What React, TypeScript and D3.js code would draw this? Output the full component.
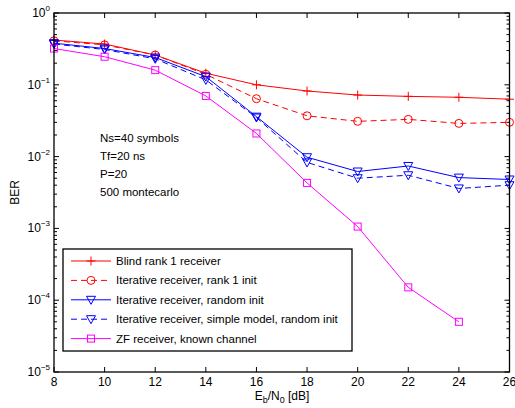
import React from 'react';
import * as d3 from 'd3';

const snr = [8, 10, 12, 14, 16, 18, 20, 22, 24, 26];
const blindRank1 = [0.42, 0.37, 0.26, 0.145, 0.1, 0.082, 0.072, 0.069, 0.067, 0.063];
const iterRank1 = [0.41, 0.36, 0.26, 0.14, 0.064, 0.037, 0.031, 0.033, 0.029, 0.03];
const iterRandom = [0.38, 0.32, 0.24, 0.13, 0.036, 0.0098, 0.0062, 0.0074, 0.0051, 0.0048];
const iterSimple = [0.37, 0.31, 0.23, 0.117, 0.035, 0.0083, 0.005, 0.0055, 0.0036, 0.004];
const zfKnown = [0.32, 0.246, 0.16, 0.07, 0.021, 0.0043, 0.00106, 0.000151, 0.00005];

const xTicks = [8, 10, 12, 14, 16, 18, 20, 22, 24, 26];
const yExponents = [0, -1, -2, -3, -4, -5];
const notes = ['Ns=40 symbols', 'Tf=20 ns', 'P=20', '500 montecarlo'];

type Marker = 'plus' | 'circle' | 'tri' | 'square';
const series: { name: string; values: number[]; color: string; dash?: string; marker: Marker }[] = [
  { name: 'Blind rank 1 receiver', values: blindRank1, color: '#ff0000', marker: 'plus' },
  { name: 'Iterative receiver, rank 1 init', values: iterRank1, color: '#ff0000', dash: '6,4', marker: 'circle' },
  { name: 'Iterative receiver, random init', values: iterRandom, color: '#0000ff', marker: 'tri' },
  { name: 'Iterative receiver, simple model, random init', values: iterSimple, color: '#0000ff', dash: '6,4', marker: 'tri' },
  { name: 'ZF receiver, known channel', values: zfKnown, color: '#ff00ff', marker: 'square' },
];

const W = 515;
const H = 408;
const m = { left: 54, right: 509.5, top: 13, bottom: 372 };
const font = '"Liberation Sans", Arial, sans-serif';

function MarkerShape({ type, x, y, color }: { type: Marker; x: number; y: number; color: string }) {
  if (type === 'plus') {
    return (
      <path d={`M${x - 4.5},${y}H${x + 4.5}M${x},${y - 4.5}V${y + 4.5}`} stroke={color} strokeWidth={1} fill="none" />
    );
  }
  if (type === 'circle') return <circle cx={x} cy={y} r={4} stroke={color} fill="none" strokeWidth={1} />;
  if (type === 'tri')
    return (
      <path d={`M${x - 4.5},${y - 3.5}L${x + 4.5},${y - 3.5}L${x},${y + 4.5}Z`} stroke={color} fill="none" strokeWidth={1} />
    );
  return <rect x={x - 3.5} y={y - 3.5} width={7} height={7} stroke={color} fill="none" strokeWidth={1} />;
}

export default function App() {
  const x = d3.scaleLinear().domain([8, 26]).range([m.left, m.right]);
  const y = d3.scaleLog().domain([1e-5, 1]).range([m.bottom, m.top]);
  const line = d3
    .line<number>()
    .x((_, i) => x(snr[i]))
    .y((d) => y(d));

  // minor log ticks
  const minor: number[] = [];
  for (let e = -5; e < 0; e++) for (let k = 2; k <= 9; k++) minor.push(k * Math.pow(10, e));

  const lg = { x0: 63, y0: 249, x1: 352, y1: 351 };
  const rowH = 19.4;

  return (
    <svg width={W} height={H} style={{ position: 'absolute', left: 0, top: 0, background: '#fff' }} fontFamily={font}>
      <rect x={0} y={0} width={W} height={H} fill="#fff" />
      <rect x={m.left} y={m.top} width={m.right - m.left} height={m.bottom - m.top} fill="#fff" stroke="none" />

      {/* ticks */}
      <g stroke="#000" strokeWidth={1}>
        {xTicks.map((t) => (
          <g key={'xt' + t}>
            <line x1={x(t)} x2={x(t)} y1={m.bottom} y2={m.bottom - 5} />
            <line x1={x(t)} x2={x(t)} y1={m.top} y2={m.top + 5} />
          </g>
        ))}
        {yExponents.map((e) => (
          <g key={'yt' + e}>
            <line x1={m.left} x2={m.left + 5} y1={y(Math.pow(10, e))} y2={y(Math.pow(10, e))} />
            <line x1={m.right} x2={m.right - 5} y1={y(Math.pow(10, e))} y2={y(Math.pow(10, e))} />
          </g>
        ))}
        {minor.map((v, i) => (
          <g key={'mn' + i}>
            <line x1={m.left} x2={m.left + 3} y1={y(v)} y2={y(v)} />
            <line x1={m.right} x2={m.right - 3} y1={y(v)} y2={y(v)} />
          </g>
        ))}
      </g>

      {/* series */}
      {series.map((s) => (
        <g key={s.name}>
          <path d={line(s.values) || ''} fill="none" stroke={s.color} strokeWidth={1} strokeDasharray={s.dash} />
          {s.values.map((v, i) => (
            <MarkerShape key={i} type={s.marker} x={x(snr[i])} y={y(v)} color={s.color} />
          ))}
        </g>
      ))}

      {/* frame */}
      <rect x={m.left} y={m.top} width={m.right - m.left} height={m.bottom - m.top} fill="none" stroke="#000" strokeWidth={1.3} />

      {/* tick labels */}
      <g fontSize={12} fill="#000">
        {xTicks.map((t) => (
          <text key={'xl' + t} x={x(t)} y={386} textAnchor="middle">
            {t}
          </text>
        ))}
        {yExponents.map((e) => (
          <text key={'yl' + e} x={m.left - 4} y={y(Math.pow(10, e)) + 4} textAnchor="end">
            10
            <tspan fontSize={8} dy={-6}>
              {e === 0 ? '0' : '\u2212' + -e}
            </tspan>
          </text>
        ))}
      </g>

      {/* axis titles */}
      <text x={282} y={400} textAnchor="middle" fontSize={12}>
        E<tspan fontSize={9} dy={3}>b</tspan>
        <tspan dy={-3}>/N</tspan>
        <tspan fontSize={9} dy={3}>0</tspan>
        <tspan dy={-3}> [dB]</tspan>
      </text>
      <text transform={`translate(19,${(m.top + m.bottom) / 2}) rotate(-90)`} textAnchor="middle" fontSize={12}>
        BER
      </text>

      {/* notes */}
      {notes.map((n, i) => (
        <text key={n} x={100} y={142 + i * 18} fontSize={11.5}>
          {n}
        </text>
      ))}

      {/* legend */}
      <rect x={lg.x0} y={lg.y0} width={lg.x1 - lg.x0} height={lg.y1 - lg.y0} fill="#fff" stroke="#000" strokeWidth={1.3} />
      {series.map((s, i) => {
        const cy = 261 + i * rowH;
        return (
          <g key={'lg' + s.name}>
            <line x1={71} x2={111} y1={cy} y2={cy} stroke={s.color} strokeWidth={1} strokeDasharray={s.dash ? '6,4' : undefined} />
            <MarkerShape type={s.marker} x={91} y={cy} color={s.color} />
            <text x={116} y={cy + 4} fontSize={11.5}>
              {s.name}
            </text>
          </g>
        );
      })}
    </svg>
  );
}
